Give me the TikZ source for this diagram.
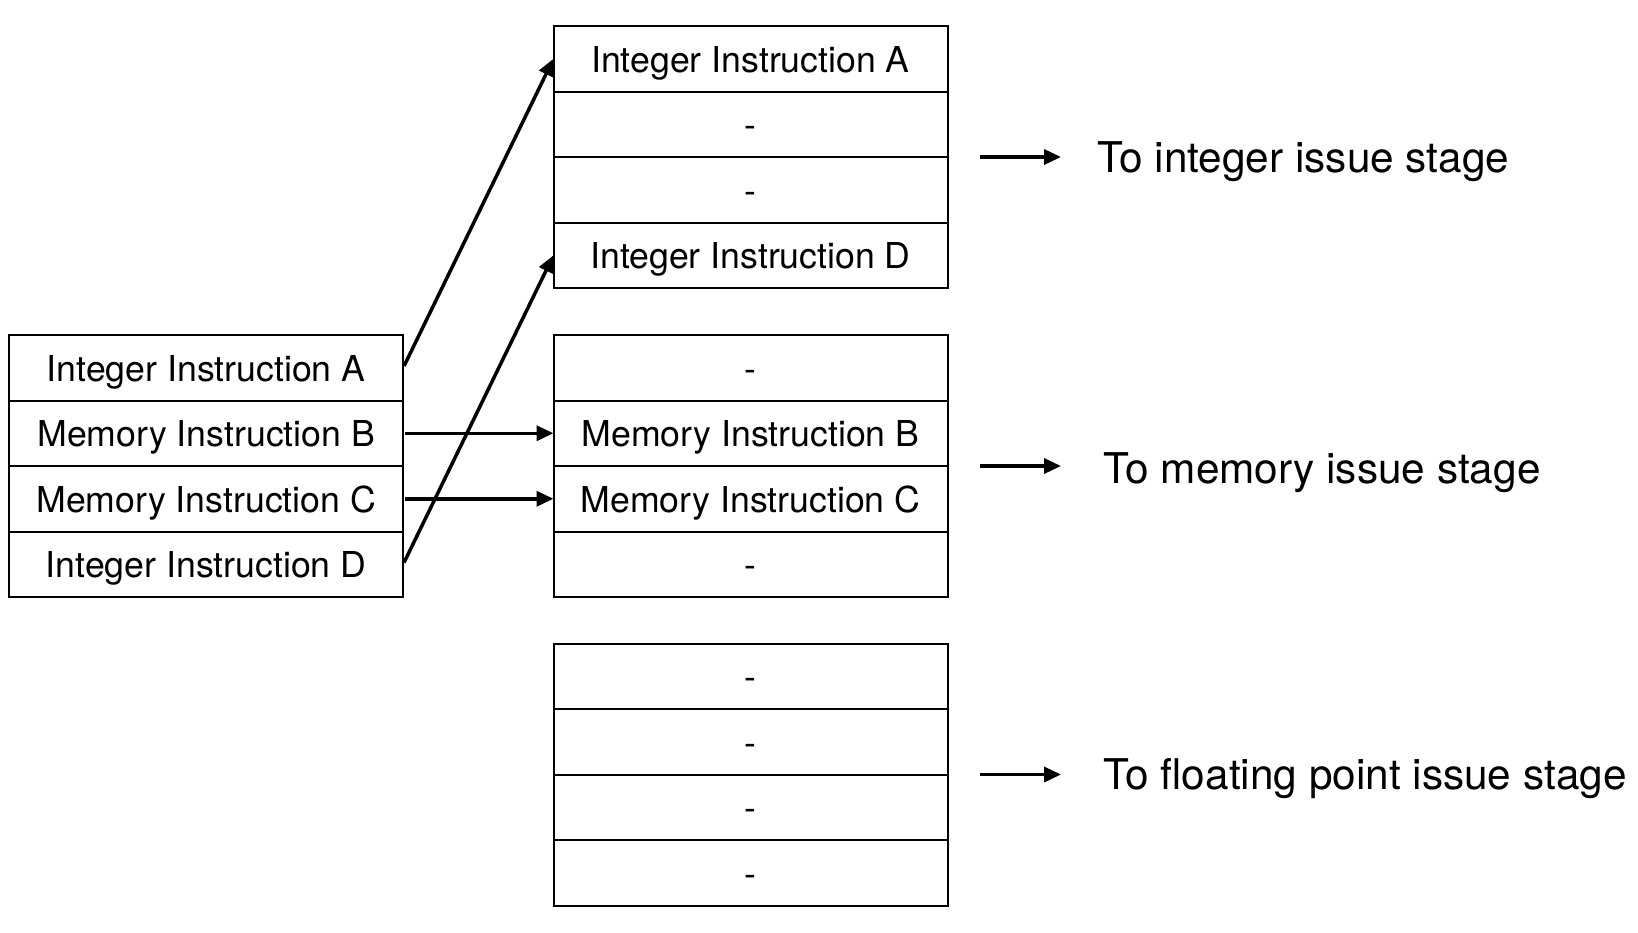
\documentclass[tikz,border=0pt]{standalone}
\usepackage{fontspec}
\setmainfont{TeX Gyre Heros}
\usetikzlibrary{positioning}
\usetikzlibrary{arrows.meta}

\begin{document}
\begin{tikzpicture}
            \tikzstyle{slot} = [draw, line width=0.04cm, minimum width=7.88cm, minimum height=1.31cm, inner sep=0pt, outer sep=0pt, text height=0.53cm, text depth=0pt, font=\fontsize{20.3}{24}\selectfont]
            \tikzstyle{move} = [line width=0.07cm, -{Triangle[length=0.34cm, width=0.3cm]}]
            \tikzstyle{stage} = [anchor=base west, inner sep=0pt, font=\fontsize{24.1}{28}\selectfont]
            \useasboundingbox (0, 0) rectangle (32.76, -18.64);
            % incoming instructions
            \node[slot] (inA) at (4.124, -7.355) {Integer Instruction A};
            \node[slot, below=0pt of inA] (inB) {Memory Instruction B};
            \node[slot, below=0pt of inB] (inC) {Memory Instruction C};
            \node[slot, below=0pt of inC] (inD) {Integer Instruction D};
            % integer queue
            \node[slot] (int1) at (15.01, -1.175) {Integer Instruction A};
            \node[slot, below=0pt of int1] (int2) {-};
            \node[slot, below=0pt of int2] (int3) {-};
            \node[slot, below=0pt of int3] (int4) {Integer Instruction D};
            % memory queue
            \node[slot] (mem1) at (15.01, -7.355) {-};
            \node[slot, below=0pt of mem1] (mem2) {Memory Instruction B};
            \node[slot, below=0pt of mem2] (mem3) {Memory Instruction C};
            \node[slot, below=0pt of mem3] (mem4) {-};
            % floating point queue
            \node[slot] (fp1) at (15.01, -13.525) {-};
            \node[slot, below=0pt of fp1] (fp2) {-};
            \node[slot, below=0pt of fp2] (fp3) {-};
            \node[slot, below=0pt of fp3] (fp4) {-};
            \draw[move, shorten <=0.04cm] (inA.east) -- (int1.west);
            \draw[move, shorten <=0.04cm] (inD.east) -- (int4.west);
            \draw[move, shorten <=0.04cm] (inB.east) -- (mem2.west);
            \draw[move, shorten <=0.04cm] (inC.east) -- (mem3.west);
            % issue stages
            \coordinate (intfrom) at (19.6, -3.14);
            \coordinate (into) at (21.22, -3.14);
            \coordinate (memfrom) at (19.6, -9.32);
            \coordinate (memto) at (21.22, -9.32);
            \coordinate (fpfrom) at (19.6, -15.49);
            \coordinate (fpto) at (21.22, -15.49);
            \draw[move] (intfrom) -- (into);
            \draw[move] (memfrom) -- (memto);
            \draw[move] (fpfrom) -- (fpto);
            \node[stage] (intstage) at (21.94, -3.44) {To integer issue stage};
            \node[stage] (memstage) at (22.06, -9.66) {To memory issue stage};
            \node[stage] (fpstage) at (22.06, -15.79) {To floating point issue stage};
        \end{tikzpicture}
\end{document}
